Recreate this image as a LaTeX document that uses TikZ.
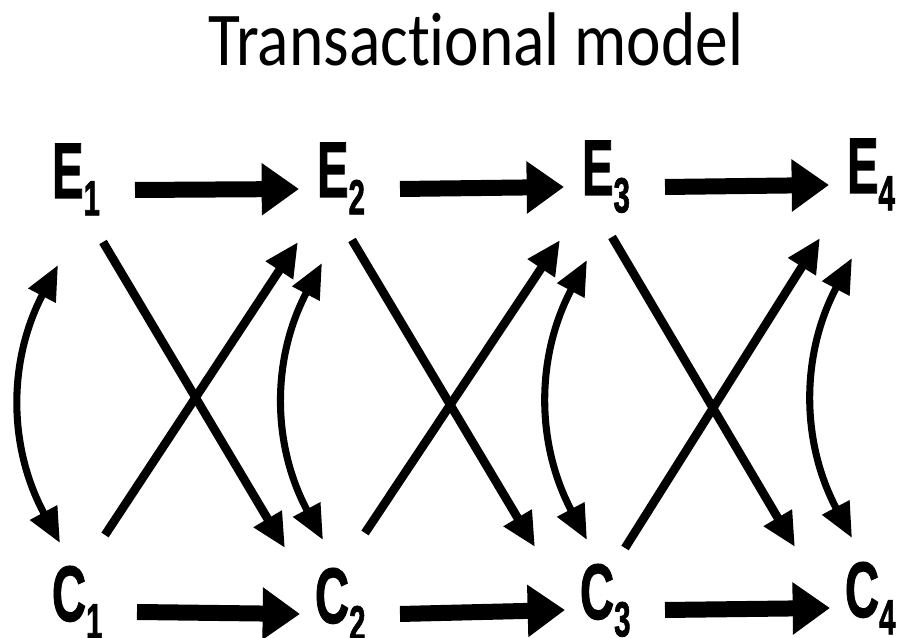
\documentclass[tikz,border=0pt]{standalone}
\usepackage{fontspec}
\setmainfont{Liberation Sans}
\newfontfamily\titlefont[Ligatures=NoCommon]{Carlito}
\newfontfamily\labelfont[FakeBold=1.6]{Liberation Sans Bold}
\usetikzlibrary{arrows.meta}

% condensed heavy label with a large lowered index
\newcommand{\tlabel}[2]{\scalebox{0.6}[1]{\labelfont\fontsize{59pt}{59pt}\selectfont #1\raisebox{-13pt}{\fontsize{37pt}{37pt}\selectfont #2}}}

\tikzset{
  lab/.style={anchor=base west, inner sep=0pt, outer sep=0pt},
  hflow/.style={line width=12pt, -{Triangle[length=28pt,width=37.5pt]}},
  xflow/.style={line width=6.5pt, -{Triangle[length=25.5pt,width=23pt]}},
  mutual/.style={line width=5.3pt, {Triangle[length=26pt,width=22pt]}-{Triangle[length=26pt,width=22pt]}}
}

\begin{document}
\begin{tikzpicture}[x=0.75pt, y=0.75pt]
  \useasboundingbox (0,0) rectangle (907,638);

  % title
  \node[anchor=base, inner sep=0pt] (title) at (476,572)
    {\scalebox{0.86}[1]{\titlefont\fontsize{57pt}{57pt}\selectfont Transactional model}};

  % labels
  \node[lab] (E1) at (52,440) {\tlabel{E}{1}};
  \node[lab] (E2) at (317,441) {\tlabel{E}{2}};
  \node[lab] (E3) at (582,443) {\tlabel{E}{3}};
  \node[lab] (E4) at (847,445) {\tlabel{E}{4}};
  \node[lab] (C1) at (52,17) {\tlabel{C}{1}};
  \node[lab] (C2) at (315,15) {\tlabel{C}{2}};
  \node[lab] (C3) at (580,19) {\tlabel{C}{3}};
  \node[lab] (C4) at (845,21) {\tlabel{C}{4}};

  % stability arrows
  \draw[hflow] ([shift={(83,8)}]E1.base west) -- ([shift={(-18,8)}]E2.base west);
  \draw[hflow] ([shift={(83,8)}]E2.base west) -- ([shift={(-18,8)}]E3.base west);
  \draw[hflow] ([shift={(83,8)}]E3.base west) -- ([shift={(-18,8)}]E4.base west);
  \draw[hflow] ([shift={(85,9)}]C1.base west) -- ([shift={(-15,9)}]C2.base west);
  \draw[hflow] ([shift={(85,9)}]C2.base west) -- ([shift={(-15,9)}]C3.base west);
  \draw[hflow] ([shift={(85,9)}]C3.base west) -- ([shift={(-15,9)}]C4.base west);

  % cross-lagged arrows
  \draw[xflow] ([shift={(51,-44)}]E1.base west) -- ([shift={(-30,75)}]C2.base west);
  \draw[xflow] ([shift={(35,-43)}]E2.base west) -- ([shift={(-45,72)}]C3.base west);
  \draw[xflow] ([shift={(30,-42)}]E3.base west) -- ([shift={(-50,70)}]C4.base west);
  \draw[xflow] ([shift={(53,86)}]C1.base west) -- ([shift={(-19,-45)}]E2.base west);
  \draw[xflow] ([shift={(50,90)}]C2.base west) -- ([shift={(-22,-45)}]E3.base west);
  \draw[xflow] ([shift={(45,71)}]C3.base west) -- ([shift={(-27,-45)}]E4.base west);

  % concurrent links
  \draw[mutual] ([shift={(6,-67)}]E1.base west) to[bend right=28] ([shift={(8,78)}]C1.base west);
  \draw[mutual] ([shift={(5,-66)}]E2.base west) to[bend right=28] ([shift={(8,83)}]C2.base west);
  \draw[mutual] ([shift={(5,-65)}]E3.base west) to[bend right=28] ([shift={(7,79)}]C3.base west);
  \draw[mutual] ([shift={(5,-65)}]E4.base west) to[bend right=28] ([shift={(7,79)}]C4.base west);
\end{tikzpicture}
\end{document}
